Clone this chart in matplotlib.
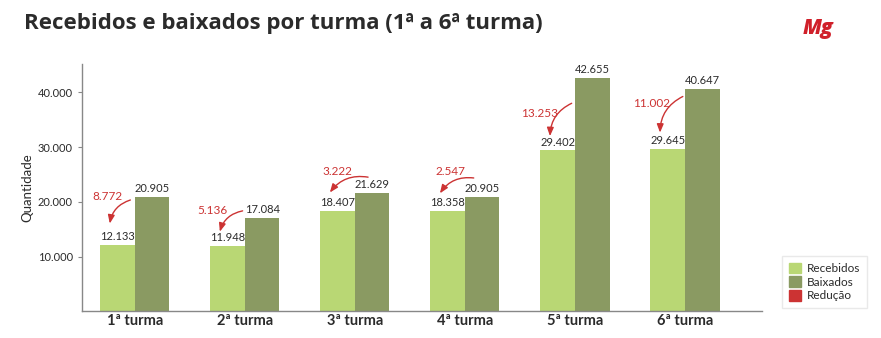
import matplotlib.pyplot as plt
import numpy as np
from matplotlib.patches import Patch
from matplotlib.ticker import FuncFormatter

plt.rcParams["font.family"] = ["Lato", "DejaVu Sans"]

turmas = ["1ª turma", "2ª turma", "3ª turma", "4ª turma", "5ª turma", "6ª turma"]
recebidos = [12133, 11948, 18407, 18358, 29402, 29645]
baixados = [20905, 17084, 21629, 20905, 42655, 40647]
reducao = [8772, 5136, 3222, 2547, 13253, 11002]

C_REC = "#b9d774"
C_BAI = "#8a9a62"
C_RED = "#cc3333"
C_TXT = "#2b2b2b"


def fmt(v):
    return f"{v:,.0f}".replace(",", ".")


# arrow layout per group: (tail dx, tail dy above recebidos, head dy above recebidos,
#                          text dx, text dy above recebidos) -- dx in bar units
notes = [
    (-0.04, 8200, 3900, -0.25, 8800),
    (-0.02, 6400, 2600, -0.29, 6500),
    (0.12, 6100, 3300, -0.16, 7100),
    (0.08, 6000, 3200, -0.13, 7100),
    (-0.03, 8600, 2600, -0.32, 6800),
    (-0.02, 9600, 3000, -0.30, 8400),
]

fig = plt.figure(figsize=(8.81, 3.38), dpi=100)
ax = fig.add_axes([0.093, 0.079, 0.772, 0.732])

x = np.arange(len(turmas))
w = 0.314
ax.bar(x - w / 2, recebidos, width=w, color=C_REC, zorder=2)
ax.bar(x + w / 2, baixados, width=w, color=C_BAI, zorder=2)

for i in range(len(turmas)):
    ax.text(x[i] - w / 2, recebidos[i] + 500, fmt(recebidos[i]), ha="center",
            va="bottom", fontsize=8, color=C_TXT)
    ax.text(x[i] + w / 2, baixados[i] + 500, fmt(baixados[i]), ha="center",
            va="bottom", fontsize=8, color=C_TXT)
    tdx, tdy, hdy, xdx, xdy = notes[i]
    ax.annotate("", xy=(x[i] - w / 2 - 0.07, recebidos[i] + hdy),
                xytext=(x[i] + tdx, recebidos[i] + tdy),
                arrowprops=dict(arrowstyle="-|>,head_length=0.5,head_width=0.2",
                                color=C_RED, lw=1.0, shrinkA=0, shrinkB=0,
                                connectionstyle="arc3,rad=0.3"))
    ax.text(x[i] + xdx, recebidos[i] + xdy, fmt(reducao[i]), ha="center",
            va="center", fontsize=8.5, color=C_RED)

ax.set_xlim(-0.48, 5.70)
ax.set_ylim(0, 45200)
ax.set_yticks([10000, 20000, 30000, 40000])
ax.yaxis.set_major_formatter(FuncFormatter(lambda v, p: fmt(v)))
ax.tick_params(axis="y", labelsize=8, labelcolor=C_TXT, color="#888888",
               length=3, width=0.8)
ax.set_xticks(x)
ax.set_xticklabels(turmas, fontsize=10.5, fontweight="bold", color=C_TXT)
ax.tick_params(axis="x", length=0, pad=2)
ax.set_ylabel("Quantidade", fontsize=9.5, color=C_TXT, labelpad=3)

for s in ["top", "right"]:
    ax.spines[s].set_visible(False)
for s in ["left", "bottom"]:
    ax.spines[s].set_color("#888888")
    ax.spines[s].set_linewidth(1.0)

fig.text(0.027, 0.93, "Recebidos e baixados por turma (1ª a 6ª turma)",
         fontsize=16, fontweight="bold", color=C_TXT, va="center",
         family=["Open Sans", "DejaVu Sans"])
fig.text(0.929, 0.915, "Mg", fontsize=15, fontweight="heavy", style="italic",
         color="#d0202a", ha="center", va="center",
         family=["Open Sans", "DejaVu Sans"])

handles = [Patch(color=C_REC, label="Recebidos"),
           Patch(color=C_BAI, label="Baixados"),
           Patch(color=C_RED, label="Redução")]
leg = fig.legend(handles=handles, loc="lower left", bbox_to_anchor=(0.881, 0.07),
                 fontsize=8.5, frameon=True, fancybox=False, handlelength=1.0,
                 handleheight=1.0, handletextpad=0.5, labelspacing=0.2,
                 borderpad=0.6, labelcolor=C_TXT)
leg.get_frame().set_edgecolor("#e4e4e4")
leg.get_frame().set_linewidth(1.0)

fig.savefig("out.png", dpi=100)
